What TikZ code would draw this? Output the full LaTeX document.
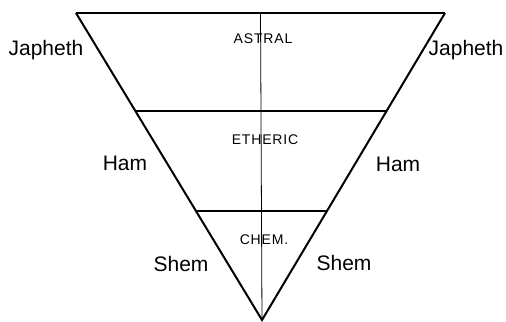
\documentclass[tikz,border=0pt]{standalone}
\usepackage{fontspec}
\setmainfont{Liberation Sans}
\usetikzlibrary{calc}

\begin{document}
\begin{tikzpicture}[x=0.5pt,y=0.5pt,
    side/.style={line width=1pt},
    divide/.style={line width=0.8pt},
    plane/.style={font=\fontsize{7}{8}\selectfont\addfontfeature{LetterSpace=6}},
    son/.style={font=\fontsize{10.5}{12}\selectfont}]

\useasboundingbox (0,0) rectangle (506,321);

% Corners of the triangle
\coordinate (tl) at (76,308);
\coordinate (tr) at (445,308);
\coordinate (apex) at (262,1);

% Outline
\draw[side] (tl) -- (apex) -- (tr);
\draw[divide] (tl) -- (tr);

% Dividing lines
\draw[divide] ($(tl)!0.319!(apex)$) coordinate (el) -- ($(tr)!0.319!(apex)$) coordinate (er);
\draw[divide] ($(tl)!0.645!(apex)$) coordinate (cl) -- ($(tr)!0.645!(apex)$) coordinate (cr);

% Centre axis
\draw[line width=0.4pt] ($(tl)!0.5!(tr)$) coordinate (top) -- (apex);

% Planes
\node[plane] (astral) at (263,282) {ASTRAL};
\node[plane] (etheric) at (265,181) {ETHERIC};
\node[plane] (chem) at (264,81) {CHEM.};

% Sons, left side
\node[son] (japhethl) at (46,271) {Japheth};
\node[son] (haml) at (125,158) {Ham};
\node[son] (sheml) at (181,57) {Shem};

% Sons, right side
\node[son] (japhethr) at (466,271) {Japheth};
\node[son] (hamr) at (398,157) {Ham};
\node[son] (shemr) at (344,58) {Shem};

\end{tikzpicture}
\end{document}
